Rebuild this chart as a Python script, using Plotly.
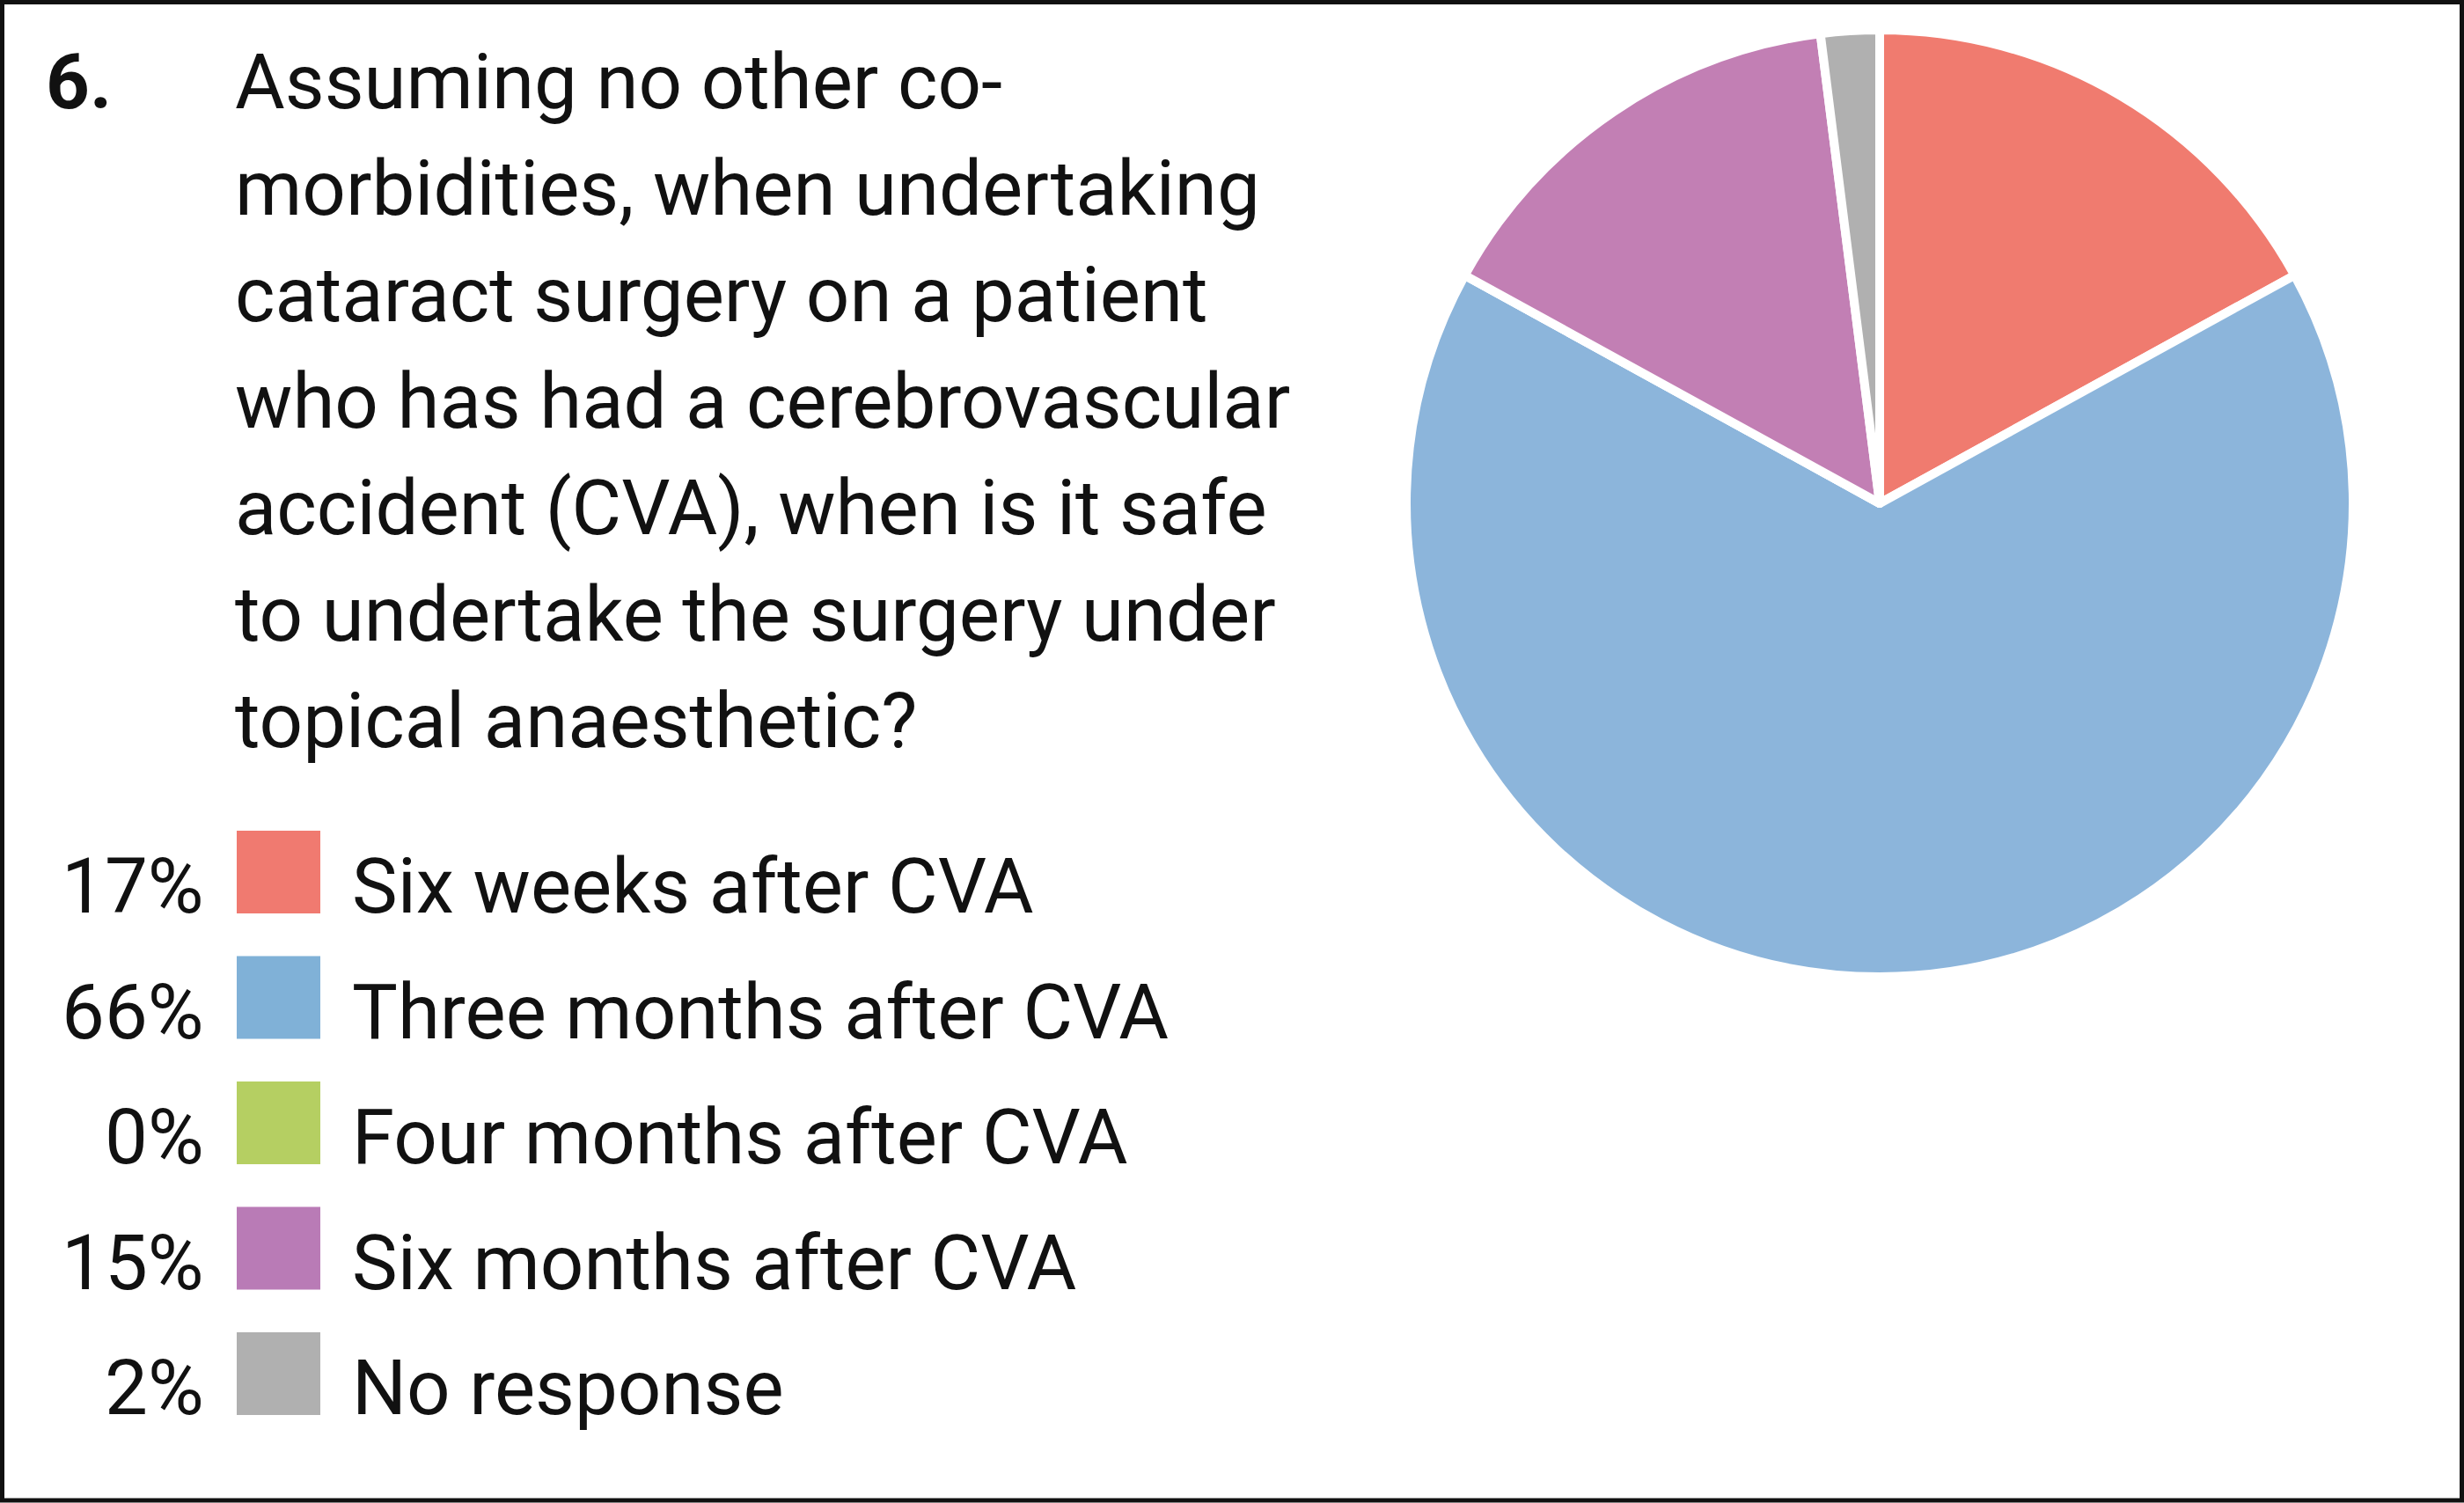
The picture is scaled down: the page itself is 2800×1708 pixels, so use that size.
import plotly.graph_objects as go

# ---- data ----
categories = ["Six weeks after CVA", "Three months after CVA", "Four months after CVA",
              "Six months after CVA", "No response"]
percentages = [17, 66, 0, 15, 2]
question_number = "6."
question_lines = [
    "Assuming no other co-",
    "morbidities, when undertaking",
    "cataract surgery on a patient",
    "who has had a cerebrovascular",
    "accident (CVA), when is it safe",
    "to undertake the surgery under",
    "topical anaesthetic?",
]

# ---- style ----
slice_colors = ["#F07B6F", "#8CB5DB", "#B5CF62", "#C27FB4", "#B0B0B0"]
key_colors = ["#F07A70", "#80B1D7", "#B5CF62", "#B97BB6", "#B0B0B0"]
W, H = 2800, 1708
FONT = "Roboto"
FS = 87


def px(x):
    return x / W


def py(y):
    return 1 - y / H


fig = go.Figure()

# pie: center (2136, 572), visible radius ~533 (+ half of white stroke)
cx, cy, r = 2136, 572, 538
fig.add_trace(go.Pie(
    labels=categories,
    values=percentages,
    sort=False,
    direction="clockwise",
    rotation=0,
    marker=dict(colors=slice_colors, line=dict(color="white", width=10)),
    textinfo="none",
    hoverinfo="label+percent",
    showlegend=False,
    domain=dict(x=[px(cx - r), px(cx + r)], y=[py(cy + r), py(cy - r)]),
))

annotations = []
shapes = []

# question text
base0, pitch = 122.5, 121
off = 0.342 * FS
annotations.append(dict(
    text=f"<b>{question_number}</b>", x=px(50), y=py(base0 - off),
    xref="paper", yref="paper", xanchor="left", yanchor="middle",
    showarrow=False, font=dict(family=FONT, size=FS, color="#111111")))
for i, line in enumerate(question_lines):
    annotations.append(dict(
        text=line, x=px(265), y=py(base0 + i * pitch - off),
        xref="paper", yref="paper", xanchor="left", yanchor="middle",
        showarrow=False, font=dict(family=FONT, size=FS, color="#111111")))

# key (legend)
kbase0, kpitch = 1037, 142.5
for i, (cat, pct) in enumerate(zip(categories, percentages)):
    b = kbase0 + i * kpitch
    shapes.append(dict(
        type="rect", xref="paper", yref="paper",
        x0=px(269), x1=px(364), y0=py(944 + i * kpitch), y1=py(1038 + i * kpitch),
        fillcolor=key_colors[i], line=dict(width=0)))
    annotations.append(dict(
        text=f"{pct}%", x=px(234), y=py(b - off),
        xref="paper", yref="paper", xanchor="right", yanchor="middle",
        showarrow=False, font=dict(family=FONT, size=FS, color="#111111")))
    annotations.append(dict(
        text=cat, x=px(398), y=py(b - off),
        xref="paper", yref="paper", xanchor="left", yanchor="middle",
        showarrow=False, font=dict(family=FONT, size=FS, color="#111111")))

# frame
shapes.append(dict(
    type="rect", xref="paper", yref="paper",
    x0=px(2.5), x1=px(2797.5), y0=py(2.5), y1=py(1705),
    line=dict(color="#111111", width=5), fillcolor="rgba(0,0,0,0)"))

fig.update_layout(
    width=W, height=H,
    margin=dict(l=0, r=0, t=0, b=0),
    paper_bgcolor="white",
    plot_bgcolor="white",
    annotations=annotations,
    shapes=shapes,
    showlegend=False,
)

fig.write_html(
    "out.html",
    config={"displayModeBar": False},
    post_script="document.body.style.margin='0';document.body.style.overflow='hidden';",
)
